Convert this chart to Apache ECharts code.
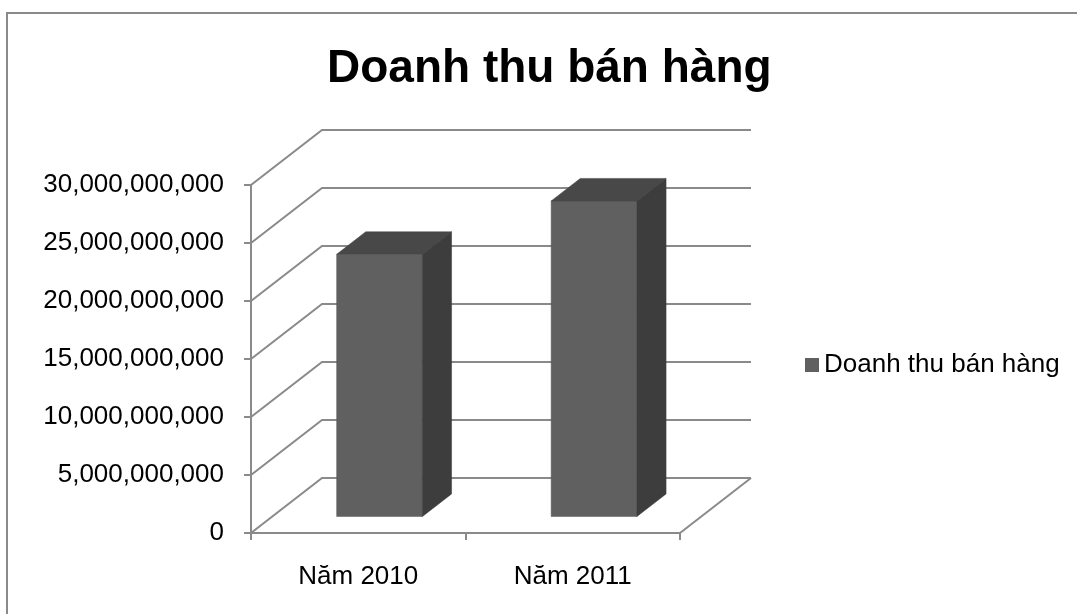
<!DOCTYPE html>
<html>
<head>
<meta charset="utf-8">
<script src="https://cdn.jsdelivr.net/npm/echarts@6/dist/echarts.min.js"></script>
<style>
html,body{margin:0;padding:0;background:#fff;}
#chart{width:1077px;height:614px;}
</style>
</head>
<body>
<div id="chart"></div>
<script>
// ---- data ----
const chartTitle = 'Doanh thu bán hàng';
const seriesName = 'Doanh thu bán hàng';
const categories = ['Năm 2010', 'Năm 2011'];
const revenue = [22600000000, 27200000000];
const yTicks = [0, 5000000000, 10000000000, 15000000000, 20000000000, 25000000000, 30000000000];

// ---- 3D style constants (pixels / fractions) ----
const DEPTH_X = 71, DEPTH_Y = -55;   // back wall offset
const BAR_Z0 = 0.3, BAR_DZ = 0.41;   // bar front-face depth and bar depth (fraction of wall depth)
const BAR_W = 0.4;                   // bar width as fraction of category band
const GRID_COLOR = '#8a8a8a';
const FONT = 'Liberation Sans, Arial, sans-serif';

const chart = echarts.init(document.getElementById('chart'), null, {renderer: 'canvas'});

function fmt(v) {
  return String(v).replace(/\B(?=(\d{3})+(?!\d))/g, ',');
}

const option = {
  animation: false,
  backgroundColor: '#fff',
  textStyle: {fontFamily: FONT},
  title: {
    text: chartTitle,
    left: 322,
    top: 41,
    textStyle: {fontFamily: FONT, fontSize: 46, fontWeight: 'bold', color: '#000'}
  },
  graphic: [{
    type: 'rect',
    shape: {x: 7, y: 13, width: 1200, height: 800},
    style: {fill: 'none', stroke: '#8a8a8a', lineWidth: 2},
    silent: true
  }],
  legend: {
    data: [seriesName],
    left: 800,
    top: 347,
    icon: 'rect',
    itemWidth: 14,
    itemHeight: 14,
    textStyle: {fontFamily: FONT, fontSize: 26, color: '#000'}
  },
  grid: {left: 251, right: 397, top: 185, bottom: 81, containLabel: false},
  xAxis: {
    type: 'category',
    data: categories,
    boundaryGap: true,
    axisLine: {show: true, lineStyle: {color: GRID_COLOR, width: 2}},
    axisTick: {show: true, length: 7, lineStyle: {color: GRID_COLOR, width: 2}},
    axisLabel: {margin: 31, fontSize: 26, color: '#000', fontFamily: FONT},
    splitLine: {show: false}
  },
  yAxis: {
    type: 'value',
    min: yTicks[0],
    max: yTicks[yTicks.length - 1],
    interval: yTicks[1] - yTicks[0],
    axisLine: {show: true, lineStyle: {color: GRID_COLOR, width: 2}},
    axisTick: {show: true, length: 7, lineStyle: {color: GRID_COLOR, width: 2}},
    axisLabel: {margin: 27, fontSize: 26, color: '#000', fontFamily: FONT, formatter: fmt},
    splitLine: {show: false}
  },
  series: [
    {
      // back wall gridlines + floor
      name: 'wall',
      type: 'custom',
      silent: true,
      z: 1,
      data: yTicks.map(v => [0, v]),
      renderItem: function (params, api) {
        const cs = params.coordSys;
        const v = api.value(1);
        const y = api.coord([0, v])[1];
        const left = cs.x, right = cs.x + cs.width;
        const children = [
          {type: 'polyline', shape: {points: [[left, y], [left + DEPTH_X, y + DEPTH_Y], [right + DEPTH_X, y + DEPTH_Y]]},
           style: {stroke: GRID_COLOR, lineWidth: 2, fill: null}}
        ];
        if (v === 0) {
          children.push({type: 'line', shape: {x1: right, y1: y, x2: right + DEPTH_X, y2: y + DEPTH_Y},
            style: {stroke: GRID_COLOR, lineWidth: 2}});
        }
        return {type: 'group', children: children};
      }
    },
    {
      name: seriesName,
      type: 'custom',
      z: 5,
      itemStyle: {color: '#606060'},
      data: revenue.map((v, i) => [i, v]),
      renderItem: function (params, api) {
        const i = api.value(0), v = api.value(1);
        const base = api.coord([i, 0]);
        const top = api.coord([i, v]);
        const band = api.size([1, 0])[0];
        const w = band * BAR_W;
        const ox = DEPTH_X * BAR_Z0, oy = DEPTH_Y * BAR_Z0;
        const dx = DEPTH_X * BAR_DZ, dy = DEPTH_Y * BAR_DZ;
        const x0 = base[0] - w / 2 + ox, x1 = x0 + w;
        const yb = base[1] + oy, yt = top[1] + oy;
        return {
          type: 'group',
          children: [
            {type: 'rect', shape: {x: x0, y: yt, width: w, height: yb - yt},
             style: {fill: '#606060', stroke: '#5a5a5a', lineWidth: 0.5}},
            {type: 'polygon', shape: {points: [[x0, yt], [x0 + dx, yt + dy], [x1 + dx, yt + dy], [x1, yt]]},
             style: {fill: '#484848', stroke: '#444', lineWidth: 0.5}},
            {type: 'polygon', shape: {points: [[x1, yt], [x1 + dx, yt + dy], [x1 + dx, yb + dy], [x1, yb]]},
             style: {fill: '#3d3d3d', stroke: '#3a3a3a', lineWidth: 0.5}}
          ]
        };
      }
    }
  ]
};
chart.setOption(option);
</script>
</body>
</html>
